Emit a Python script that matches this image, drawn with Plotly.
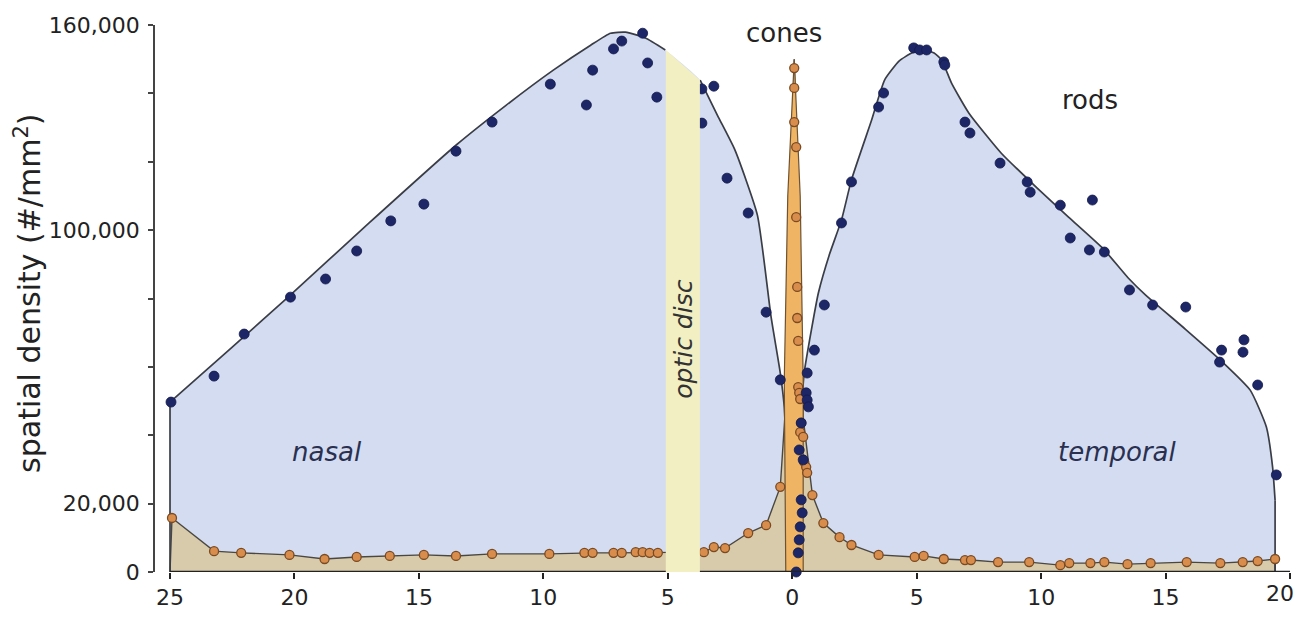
import plotly.graph_objects as go

# ---------------- data (x in mm: nasal negative, temporal positive; density in #/mm^2) ----------------
# rod density envelope curve, nasal side (ends at optic disc)
rod_curve_nasal_x = [-25.0, -22.5, -20.3, -17.0, -13.5, -11.5, -9.6, -8.1, -7.3, -6.7, -5.9, -5.1]
rod_curve_nasal_y = [49700, 65800, 80100, 102100, 124900, 136500, 146800, 154100, 157600, 157900, 156200, 152700]

# rod density envelope curve, from optic disc through fovea to temporal edge
rod_curve_temp_x = [-3.7, -3.0, -2.3, -1.4, -0.85, -0.48, -0.32, -0.24, -0.15, -0.05, 0.1, 0.25, 0.36, 0.48,
                    0.77, 1.05, 1.5, 1.98, 2.38, 3.19, 3.71, 4.3, 4.8, 5.3, 5.7, 6.0, 6.4, 7.1, 8.4, 9.8,
                    11.1, 12.5, 13.5, 14.2, 15.8, 17.2, 18.4, 19.05, 19.3, 19.4]
rod_curve_temp_y = [143900, 133500, 123400, 104400, 74600, 58200, 48300, 35700, 21000, 7000, 0, 30000, 46500, 58200,
                    70800, 81600, 93000, 103000, 114700, 132200, 143900, 149500, 151800, 152700, 151800, 149800, 143000, 134200, 122500, 112600,
                    103800, 94500, 86000, 81000, 71000, 62000, 53200, 42400, 30700, 21000]

# measured rod densities (dots)
rod_pts_x = [-24.96, -23.23, -22.02, -20.16, -18.75, -17.50, -16.13, -14.80, -13.51, -12.06, -9.72, -8.27,
             -8.02, -7.18, -6.85, -6.29, -6.01, -5.81, -5.44,
             -3.63, -3.15, -3.63, -2.62, -1.77, -1.05, -0.48,
             0.56, 0.60, 0.65, 0.36, 0.28, 0.44, 0.36, 0.40, 0.32, 0.28, 0.24, 0.16,
             0.60, 0.89, 1.29, 1.98, 2.38, 3.47, 3.67, 4.88, 5.12, 5.40, 6.09, 6.13, 6.94, 7.14,
             8.35, 9.44, 9.56, 10.77, 12.06, 11.17, 11.94, 12.54, 13.55, 14.48, 15.81, 17.25,
             17.17, 18.15, 18.11, 18.7, 19.45]
rod_pts_y = [49700, 57300, 69600, 80400, 85700, 93900, 102700, 107600, 123100, 131600, 142700, 136600,
             146800, 153000, 155300, 161400, 157600, 148900, 138900,
             141300, 142100, 131300, 115200, 105000, 76000, 56200,
             52400, 50300, 48300, 43600, 35700, 32800, 21100, 17300, 13200, 9400, 5600, 0,
             58200, 64900, 78100, 102100, 114100, 136000, 140100, 153300, 152700, 152700, 149200, 148300, 131600, 128400,
             119600, 114100, 111100, 107300, 108800, 97700, 94200, 93600, 82500, 78100, 77500, 64900,
             61400, 67900, 64300, 54700, 28400]

# cone density curve (connected dots) incl. foveal spike
cone_curve_x = [-25.0, -24.92, -23.23, -22.14, -20.2, -18.79, -17.5, -16.17, -14.8, -13.51, -12.06, -9.76,
                -8.35, -8.02, -7.18, -6.85, -6.29, -6.01, -5.73, -5.40, -4.4, -3.55, -3.15, -2.70, -1.77,
                -1.05, -0.48, -0.30, 0.08, 0.44, 0.81, 1.25, 1.90, 2.38, 3.47, 4.92, 5.28, 6.09, 6.94, 7.18,
                8.27, 9.52, 10.77, 11.13, 11.98, 12.54, 13.47, 14.40, 15.85, 17.2, 18.1, 18.7, 19.4, 19.4]
cone_curve_y = [0, 15800, 6100, 5600, 5000, 3800, 4400, 4700, 5000, 4700, 5300, 5300,
                5600, 5600, 5600, 5600, 5800, 5800, 5600, 5600, 5700, 5800, 7300, 7000, 11400,
                13700, 24900, 45000, 150000, 45000, 22500, 14300, 10200, 7900, 5000, 4400, 4700, 3800, 3500, 3500,
                2900, 2900, 2000, 2600, 2600, 2900, 2300, 2600, 2900, 2600, 2900, 3200, 3800, 0]

# outline of the foveal cone spike
cone_spike_x = [-0.26, -0.32, -0.18, 0.08, 0.32, 0.44, 0.44]
cone_spike_y = [0, 56000, 110000, 150000, 110000, 56000, 0]

# measured cone densities (dots)
cone_pts_x = [-24.92, -23.23, -22.14, -20.2, -18.79, -17.5, -16.17, -14.8, -13.51, -12.06, -9.76,
              -8.35, -8.02, -7.18, -6.85, -6.29, -6.01, -5.73, -5.40, -3.55, -3.15, -2.70, -1.77,
              -1.05, -0.48,
              0.08, 0.08, 0.08, 0.16, 0.16, 0.20, 0.20, 0.24, 0.24, 0.28, 0.32, 0.36, 0.32, 0.44, 0.48, 0.56, 0.60,
              0.81, 1.25, 1.90, 2.38, 3.47, 4.92, 5.28, 6.09, 6.94, 7.18,
              8.27, 9.52, 10.77, 11.13, 11.98, 12.54, 13.47, 14.40, 15.85, 17.2, 18.1, 18.7, 19.4]
cone_pts_y = [15800, 6100, 5600, 5000, 3800, 4400, 4700, 5000, 4700, 5300, 5300,
              5600, 5600, 5600, 5600, 5800, 5800, 5600, 5600, 5800, 7300, 7000, 11400,
              13700, 24900,
              147400, 141600, 131600, 124300, 103800, 83400, 74300, 67600, 54100, 52400, 50600, 43600, 40900, 39500, 32200, 30700, 29000,
              22500, 14300, 10200, 7900, 5000, 4400, 4700, 3800, 3500, 3500,
              2900, 2900, 2000, 2600, 2600, 2900, 2300, 2600, 2900, 2600, 2900, 3200, 3800]

# optic disc extent (mm, nasal)
disc_x = [-5.08, -3.71]
disc_top_y = [152700, 143900]

x_tick_vals = [-25, -20, -15, -10, -5, 0, 5, 10, 15, 20]
x_tick_text = ["25", "20", "15", "10", "5", "0", "5", "10", "15", "20"]
y_tick_vals = [0, 20000, 40000, 60000, 80000, 100000, 120000, 140000, 160000]
y_tick_text = ["0", "20,000", "", "", "", "100,000", "", "", "160,000"]

# ---------------- style ----------------
FONT = "DejaVu Sans, Liberation Sans, Arial, sans-serif"
ROD_FILL = "#d3dcf1"
CONE_FILL = "#d8cbab"
SPIKE_FILL = "#efb565"
DISC_FILL = "#f2efc3"
ROD_DOT = "#1d2768"
CONE_DOT = "#d98d4c"
LINE = "#3a3d46"
SPL = dict(shape="spline", smoothing=0.5)

fig = go.Figure()

# rod fill (continuous; the optic disc band covers the gap)
fig.add_trace(go.Scatter(
    x=rod_curve_nasal_x + rod_curve_temp_x, y=rod_curve_nasal_y + rod_curve_temp_y,
    mode="lines", fill="tozeroy", fillcolor=ROD_FILL, line=dict(width=0, color=ROD_FILL, **SPL),
    hoverinfo="skip", showlegend=False))

# cone fill + connecting line
fig.add_trace(go.Scatter(
    x=cone_curve_x, y=cone_curve_y, mode="lines", fill="tozeroy", fillcolor=CONE_FILL,
    line=dict(color="#4b4740", width=1.4), hoverinfo="skip", showlegend=False))

# rod curve lines (with vertical edges at the retinal margins)
fig.add_trace(go.Scatter(x=[rod_curve_nasal_x[0], rod_curve_nasal_x[0]], y=[0, rod_curve_nasal_y[0]],
                         mode="lines", line=dict(color=LINE, width=1.7), hoverinfo="skip", showlegend=False))
fig.add_trace(go.Scatter(x=rod_curve_nasal_x, y=rod_curve_nasal_y, mode="lines",
                         line=dict(color=LINE, width=1.7, **SPL), hoverinfo="skip", showlegend=False))
fig.add_trace(go.Scatter(x=rod_curve_temp_x, y=rod_curve_temp_y, mode="lines",
                         line=dict(color=LINE, width=1.7, **SPL), hoverinfo="skip", showlegend=False))
fig.add_trace(go.Scatter(x=[rod_curve_temp_x[-1], rod_curve_temp_x[-1]], y=[rod_curve_temp_y[-1], 0],
                         mode="lines", line=dict(color=LINE, width=1.7), hoverinfo="skip", showlegend=False))

# foveal cone spike
fig.add_trace(go.Scatter(
    x=cone_spike_x, y=cone_spike_y, mode="lines", fill="toself", fillcolor=SPIKE_FILL,
    line=dict(color="#6e5232", width=1.2), hoverinfo="skip", showlegend=False))

# dots
fig.add_trace(go.Scatter(x=cone_pts_x, y=cone_pts_y, mode="markers",
                         marker=dict(size=9, color=CONE_DOT, line=dict(color="#7a4a22", width=1.3)),
                         cliponaxis=False, showlegend=False))
fig.add_trace(go.Scatter(x=rod_pts_x, y=rod_pts_y, mode="markers",
                         marker=dict(size=10, color=ROD_DOT, line=dict(color="#141a4a", width=0.8)),
                         cliponaxis=False, showlegend=False))

# baseline and optic disc band
fig.add_shape(type="line", xref="x", yref="y", x0=x_tick_vals[0], x1=x_tick_vals[-1], y0=0, y1=0,
              line=dict(color="#222222", width=2.5), layer="above")
fig.add_shape(type="path", xref="x", yref="y",
              path=f"M {disc_x[0]},-1500 L {disc_x[0]},{disc_top_y[0]} L {disc_x[1]},{disc_top_y[1]} L {disc_x[1]},-1500 Z",
              fillcolor=DISC_FILL, line=dict(width=0), layer="above")

# labels
def label(text, x, y, size=26, italic=False, angle=0, color="#222222"):
    fig.add_annotation(x=x, y=y, xref="x", yref="y", text=f"<i>{text}</i>" if italic else text,
                       showarrow=False, textangle=angle, xanchor="center", yanchor="middle",
                       font=dict(family=FONT, size=size, color=color))

label("cones", -0.32, 157600)
label("rods", 11.98, 138000)
label("nasal", -18.7, 35100, italic=True, color="#2a3050")
label("temporal", 13.06, 35100, italic=True, color="#2a3050")
label("optic disc", -4.38, 68000, size=25, italic=True, angle=-90, color="#333333")

fig.add_annotation(x=-0.1115, y=0.51, xref="paper", yref="paper", text="spatial density (#/mm<sup>2</sup>)",
                   showarrow=False, textangle=-90, xanchor="center", yanchor="middle",
                   font=dict(family=FONT, size=30, color="#222222"))

# last x tick label sits at the right page edge; keep it inside the figure
fig.add_annotation(x=1.0, y=0, xref="paper", yref="paper", text=x_tick_text[-1], showarrow=False,
                   xanchor="right", yanchor="top", yshift=-8, borderpad=0,
                   font=dict(family=FONT, size=22, color="#222222"))

fig.update_layout(
    width=1287, height=602,
    margin=dict(l=147, r=0, t=17, b=38),
    paper_bgcolor="white", plot_bgcolor="white",
    font=dict(family=FONT, color="#222222"),
    xaxis=dict(range=[-25.603, 20.2], tickvals=x_tick_vals, ticktext=x_tick_text[:-1] + [""],
               ticks="outside", ticklen=6, tickwidth=1.5, tickcolor="#222222",
               showline=False, showgrid=False, zeroline=False,
               tickfont=dict(size=22, family=FONT, color="#222222")),
    yaxis=dict(range=[0, 160000], tickvals=y_tick_vals, ticktext=y_tick_text,
               ticks="outside", ticklen=5, tickwidth=1.5, tickcolor="#444444",
               showline=True, linecolor="#444444", linewidth=1.5,
               showgrid=False, zeroline=False, ticklabelstandoff=4,
               tickfont=dict(size=22, family=FONT, color="#222222")),
)

fig.write_html("out.html")
